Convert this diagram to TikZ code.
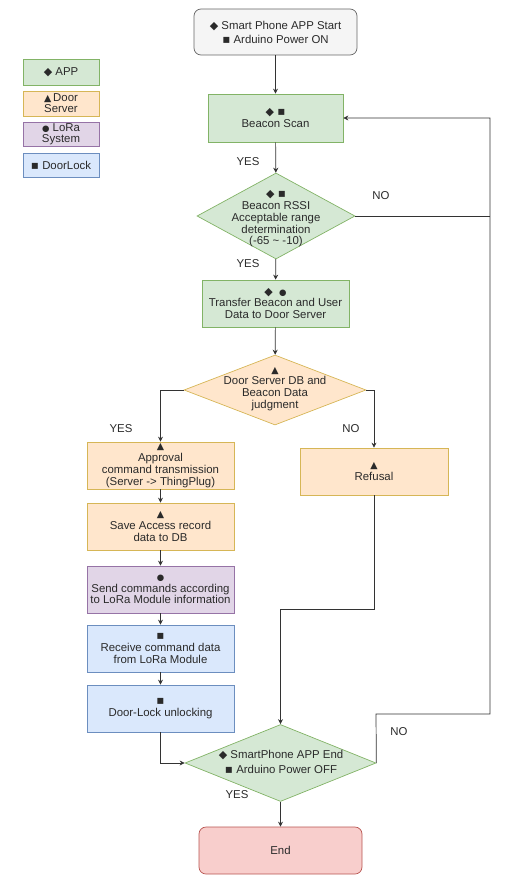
\documentclass[tikz,border=0pt]{standalone}
\usepackage{fontspec}
\setmainfont{Liberation Sans}
\newfontfamily\symfont{DejaVu Sans}
\usetikzlibrary{shapes.geometric,arrows.meta}
\definecolor{gfill}{HTML}{D5E8D4}\definecolor{gdraw}{HTML}{82B366}
\definecolor{ofill}{HTML}{FFE6CC}\definecolor{odraw}{HTML}{D6B656}
\definecolor{pfill}{HTML}{E1D5E7}\definecolor{pdraw}{HTML}{9673A6}
\definecolor{bfill}{HTML}{DAE8FC}\definecolor{bdraw}{HTML}{6C8EBF}
\definecolor{sfill}{HTML}{F5F5F5}\definecolor{sdraw}{HTML}{666666}
\definecolor{rfill}{HTML}{F8CECC}\definecolor{rdraw}{HTML}{B85450}
\definecolor{txt}{HTML}{2A2A2A}
\definecolor{ln}{HTML}{333333}
\newcommand\SymD{{\symfont\fontsize{11}{8}\selectfont ◆}}
\newcommand\SymS{{\symfont\fontsize{12}{8}\selectfont ▪}}
\newcommand\SymC{{\symfont\fontsize{8.5}{8}\selectfont ●}}
\newcommand\SymT{{\symfont\fontsize{9.5}{8}\selectfont ▲}}
\begin{document}
\begin{tikzpicture}[x=1pt,y=-1pt,
  every node/.style={text=txt,font=\fontsize{11.4}{11.8}\selectfont},
  proc/.style={draw,rectangle,align=center,inner sep=0pt,line width=0.7pt},
  gbox/.style={proc,fill=gfill,draw=gdraw},
  obox/.style={proc,fill=ofill,draw=odraw},
  pbox/.style={proc,fill=pfill,draw=pdraw},
  bbox/.style={proc,fill=bfill,draw=bdraw},
  dia/.style={draw,diamond,inner sep=0pt,line width=0.7pt},
  lbl/.style={align=center,inner sep=0pt},
  conn/.style={draw=ln,line width=0.7pt},
  arr/.style={conn,-{Stealth[length=5pt,width=5pt]}}]
\useasboundingbox (0,0) rectangle (529,880);
% legend
\node[gbox,minimum width=76pt,minimum height=26pt] (l1) at (61,72) {\SymD\ APP};
\node[obox,minimum width=76pt,minimum height=25pt,font=\fontsize{11.4}{11}\selectfont] (l2) at (61,103.5) {\SymT\,Door\\Server};
\node[pbox,minimum width=76pt,minimum height=24pt,font=\fontsize{11.4}{11}\selectfont] (l3) at (61,134) {\SymC\ LoRa\\System};
\node[bbox,minimum width=76pt,minimum height=24pt] (l4) at (61,165) {\SymS\ DoorLock};
% main flow
\node[proc,fill=sfill,draw=sdraw,rounded corners=7pt,minimum width=163pt,minimum height=46pt,font=\fontsize{11.4}{14}\selectfont] (start) at (275.5,32) {\SymD\ Smart Phone APP Start\\\SymS\ Arduino Power ON};
\node[gbox,minimum width=135pt,minimum height=48pt] (scan) at (275.5,118) {\SymD\ \SymS\\Beacon Scan};
\node[dia,fill=gfill,draw=gdraw,minimum width=158pt,minimum height=86pt] (d1) at (276,216) {};
\node[lbl] (d1t) at (276,219) {\SymD\ \SymS\\Beacon RSSI\\Acceptable range\\determination\\(-65 \textasciitilde\ -10)};
\node[gbox,minimum width=147pt,minimum height=47pt] (xfer) at (275.5,303.5) {\SymD\ \ \SymC\\Transfer Beacon and User\\Data to Door Server};
\node[dia,fill=ofill,draw=odraw,minimum width=182pt,minimum height=70pt] (d2) at (275,390) {};
\node[lbl] (d2t) at (275,389) {\SymT\\Door Server DB and\\Beacon Data\\judgment};
\node[obox,minimum width=147pt,minimum height=47pt] (appr) at (160.5,465.5) {\SymT\\Approval\\command transmission\\(Server -> ThingPlug)};
\node[obox,minimum width=148pt,minimum height=47pt] (ref) at (374,471.5) {\SymT\\Refusal};
\node[obox,minimum width=147pt,minimum height=47pt] (save) at (160.5,526.5) {\SymT\\Save Access record\\data to DB};
\node[pbox,minimum width=147pt,minimum height=47pt] (send) at (160.5,589.5) {\SymC\\Send commands according\\to LoRa Module information};
\node[bbox,minimum width=147pt,minimum height=47pt] (recv) at (160.5,648.5) {\SymS\\Receive command data\\from LoRa Module};
\node[bbox,minimum width=147pt,minimum height=47pt] (lock) at (160.5,708.5) {\SymS\\Door-Lock unlocking};
\node[dia,fill=gfill,draw=gdraw,minimum width=191pt,minimum height=77pt] (d3) at (280.5,763) {};
\node[lbl,font=\fontsize{11.4}{15}\selectfont] (d3t) at (281,762) {\SymD\ SmartPhone APP End\\\SymS\ Arduino Power OFF};
\node[proc,fill=rfill,draw=rdraw,rounded corners=7pt,minimum width=163pt,minimum height=47pt] (end) at (280.5,850.5) {End};
% labels
\node[lbl] (y1) at (248,162) {YES};
\node[lbl] (n1) at (381,196) {NO};
\node[lbl] (y2) at (248,264) {YES};
\node[lbl] (y3) at (121,429) {YES};
\node[lbl] (n2) at (351,429) {NO};
\node[lbl] (n3) at (399,732) {NO};
\node[lbl] (y4) at (237,795) {YES};
% coordinates
\coordinate (rx1) at (490,216);
\coordinate (rtop) at (490,118);
\coordinate (rx3) at (490,714);
\coordinate (r3) at (376,714);
\coordinate (rb) at (374,609);
\coordinate (rc) at (280.5,609);
\coordinate (lb) at (160.5,763);
% connectors
\draw[arr] (start) -- (scan);
\draw[arr] (scan) -- (d1);
\draw[arr] (d1) -- (xfer);
\draw[arr] (xfer) -- (d2);
\draw[conn] (d1.east) -- (rx1);
\draw[arr] (d3.east) -- (r3) -- (rx3) -- (rtop) -- (scan.east);
\draw[arr] (d2.west) -| (appr.north);
\draw[arr] (d2.east) -| (ref.north);
\draw[arr] (appr) -- (save);
\draw[arr] (save) -- (send);
\draw[arr] (send) -- (recv);
\draw[arr] (recv) -- (lock);
\draw[arr] (ref.south) -- (rb) -- (rc) -- (d3.north);
\draw[arr] (lock.south) -- (lb) -- (d3.west);
\draw[arr] (d3) -- (end);
\end{tikzpicture}
\end{document}
